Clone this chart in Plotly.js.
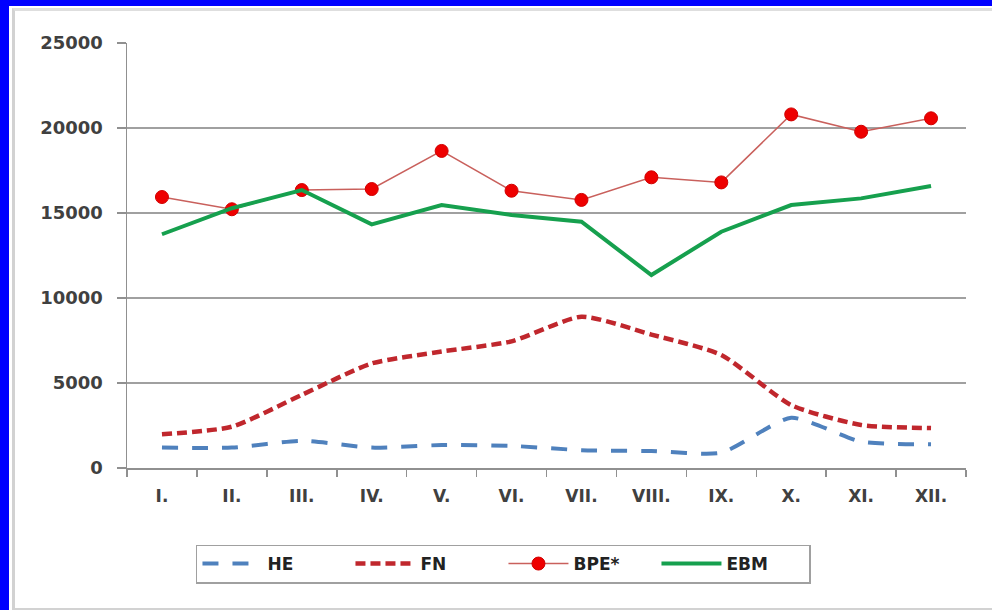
<!DOCTYPE html>
<html>
<head>
<meta charset="utf-8">
<script src="https://cdn.plot.ly/plotly-3.0.1.min.js"></script>
<style>
  html, body { margin:0; padding:0; width:992px; height:610px; background:#0000FF; overflow:hidden; }
  #frame { position:absolute; left:9px; top:6px; width:983px; height:604px; background:#ffffff; }
  #inner { position:absolute; left:3px; top:2px; width:980px; height:597px;
           border-left:3px solid #d2d2d2; border-top:3px solid #dedede; border-bottom:3px solid #d2d2d2; }
  #chart { position:absolute; left:9px; top:6px; width:983px; height:604px; }
</style>
</head>
<body>
<div id="frame"><div id="inner"></div></div>
<div id="chart"></div>
<script>
const months = ['I.','II.','III.','IV.','V.','VI.','VII.','VIII.','IX.','X.','XI.','XII.'];
const seriesNames = ['HE','FN','BPE*','EBM'];
const HE  = [1200, 1200, 1600, 1200, 1350, 1300, 1050, 1000, 900, 2950, 1550, 1400];
const FN  = [1980, 2430, 4300, 6150, 6850, 7450, 8900, 7850, 6650, 3700, 2530, 2350];
const BPE = [15940, 15220, 16350, 16410, 18650, 16310, 15770, 17100, 16800, 20800, 19780, 20570];
const EBM = [13750, 15280, 16350, 14330, 15470, 14880, 14490, 11350, 13900, 15470, 15860, 16590];
const yTicks = [0, 5000, 10000, 15000, 20000, 25000];

const traces = [
  { x: months, y: HE, name: seriesNames[0], type: 'scatter', mode: 'lines',
    line: { color: '#4F81BD', width: 4, dash: '16px,14px', shape: 'spline', smoothing: 0.6 } },
  { x: months, y: FN, name: seriesNames[1], type: 'scatter', mode: 'lines',
    line: { color: '#C0272D', width: 4.5, dash: '10px,5px', shape: 'spline', smoothing: 0.6 } },
  { x: months, y: BPE, name: seriesNames[2], type: 'scatter', mode: 'lines+markers',
    line: { color: '#C9605C', width: 1.5 },
    marker: { color: '#EE0000', size: 13, line: { color: '#D00000', width: 1 } } },
  { x: months, y: EBM, name: seriesNames[3], type: 'scatter', mode: 'lines',
    line: { color: '#16A04E', width: 4 } }
];

const tickFont = { family: 'DejaVu Sans, Liberation Sans, sans-serif', size: 17, color: '#404040', weight: 'bold' };

const layout = {
  width: 983, height: 604,
  margin: { l: 118, r: 26, t: 37, b: 142 },
  paper_bgcolor: 'rgba(0,0,0,0)',
  plot_bgcolor: 'rgba(0,0,0,0)',
  showlegend: true,
  xaxis: {
    type: 'category', range: [-0.5, 11.5], tickson: 'boundaries',
    ticks: 'outside', ticklen: 7, tickwidth: 1.5, tickcolor: '#909090',
    showgrid: false, showline: true, linecolor: '#909090', linewidth: 1.5,
    tickfont: tickFont, ticklabelstandoff: 12, zeroline: false, fixedrange: true
  },
  yaxis: {
    range: [0, 25000], tickvals: yTicks, ticktext: yTicks.map(String),
    ticks: 'outside', ticklen: 9, tickwidth: 1.5, tickcolor: '#909090',
    showgrid: true, gridcolor: '#A0A0A0', gridwidth: 1.5,
    showline: true, linecolor: '#909090', linewidth: 1.5, zeroline: false,
    tickfont: Object.assign({}, tickFont, { size: 18 }), ticklabelstandoff: 10, fixedrange: true
  },
  legend: {
    orientation: 'h', x: 0.0822, xanchor: 'left', y: -0.18, yanchor: 'top',
    bordercolor: '#A0A0A0', borderwidth: 1.5, bgcolor: '#ffffff',
    font: { family: 'DejaVu Sans, Liberation Sans, sans-serif', size: 17, color: '#222222', weight: 'bold' },
    itemwidth: 60, entrywidth: 78, entrywidthmode: 'pixels', traceorder: 'normal'
  }
};

Plotly.newPlot('chart', traces, layout, { displayModeBar: false, staticPlot: true });
</script>
</body>
</html>
